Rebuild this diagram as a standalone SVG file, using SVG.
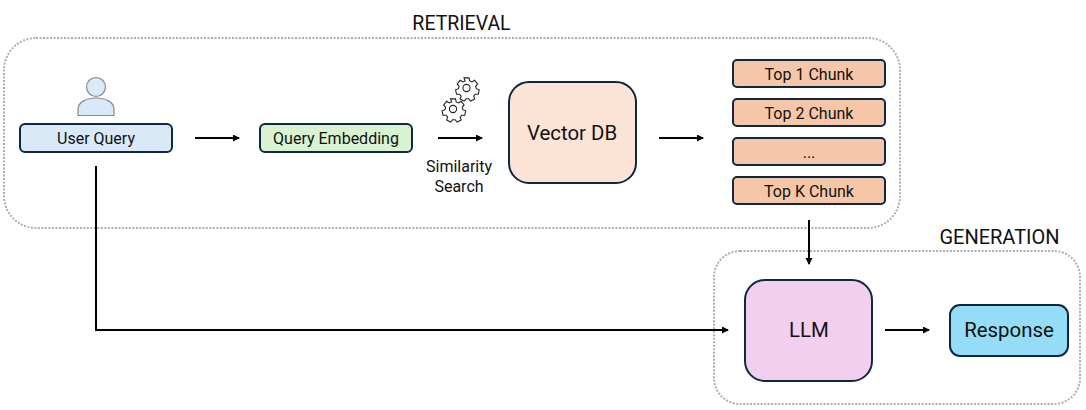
<svg xmlns="http://www.w3.org/2000/svg" width="1086" height="410" viewBox="0 0 1086 410">
<style>
text{font-family:Roboto,"Liberation Sans",sans-serif;fill:#111;text-anchor:middle}
.s{font-size:16px}.m{font-size:20.400px}.h{font-size:19.500px}.g{font-size:20px}
.box{stroke:#0e2841;stroke-width:2}
.grp{fill:none;stroke:#aeaeae;stroke-width:2;stroke-dasharray:2 1.500}
.c{fill:none;stroke:#000;stroke-width:2;marker-end:url(#a)}
.gear{fill:none;stroke:#222;stroke-width:1.100}
</style>
<defs>
<marker id="a" markerUnits="userSpaceOnUse" markerWidth="8" markerHeight="8" refX="6" refY="3.500" orient="auto"><path d="M0 0L7 3.500L0 7z" fill="#000"/></marker>
<g id="gear"><circle r="3.600" class="gear"/><path class="gear" d="M-2.500-10.500h5l.7 3 2.200 1 2.700-1.600 3 3.600-1.900 2.400.6 2.400 2.900 1.100-.9 4.500-3.100-.1-1.500 1.900 1 2.900-4.100 2.100-2-2.400h-2.400l-2 2.400-4.100-2.100 1-2.900-1.500-1.900-3.100.1-.9-4.500 2.900-1.100.6-2.400-1.900-2.400 3-3.600 2.700 1.600 2.200-1z" transform="translate(0 .4)"/></g>
</defs>
<rect width="1086" height="410" fill="#fff"/>
<g id="retrieval">
<rect class="grp" x="4" y="38" width="896" height="190" rx="32"/>
<text class="h" x="461.500" y="30">RETRIEVAL</text>
</g>
<g id="generation">
<rect class="grp" x="714" y="251" width="366" height="153" rx="26"/>
<text class="g" x="999.500" y="244">GENERATION</text>
</g>
<g id="connectors">
<path class="c" d="M195 138H239"/>
<path class="c" d="M438 138H482"/>
<path class="c" d="M659 138H703"/>
<path class="c" d="M809 220V264"/>
<path class="c" d="M96 166V330H728"/>
<path class="c" d="M885 330H929"/>
</g>
<g id="user-icon">
<circle cx="96" cy="87" r="9.500" fill="#dae9f8" stroke="#8a8a8a" stroke-width="1.200"/>
<path d="M78 115.500V109C78 102 87 98 96 98S114 102 114 109V115.500Z" fill="#dae9f8" stroke="#8a8a8a" stroke-width="1.200"/>
</g>
<g id="user-query">
<rect class="box" x="20" y="124" width="152" height="28" rx="5" fill="#dae9f8"/>
<text class="s" x="96" y="143.500">User Query</text>
</g>
<g id="query-embedding">
<rect class="box" x="260" y="124" width="152" height="28" rx="5" fill="#d9f2d0"/>
<text class="s" x="336" y="143.500">Query Embedding</text>
</g>
<g id="similarity-search">
<use href="#gear" x="466.500" y="88"/>
<use href="#gear" x="453" y="109"/>
<text class="s" x="459" y="172">Similarity</text>
<text class="s" x="459" y="191.500">Search</text>
</g>
<g id="vector-db">
<rect class="box" x="509" y="82" width="127" height="101" rx="20" fill="#fbe3d6"/>
<text class="m" x="572" y="139.500">Vector DB</text>
</g>
<g id="top-1">
<rect class="box" x="733" y="60" width="152" height="27" rx="4" fill="#f6c6a8"/>
<text class="s" x="809" y="79.500">Top 1 Chunk</text>
</g>
<g id="top-2">
<rect class="box" x="733" y="99" width="152" height="27" rx="4" fill="#f6c6a8"/>
<text class="s" x="809" y="118.500">Top 2 Chunk</text>
</g>
<g id="top-dots">
<rect class="box" x="733" y="138" width="152" height="27" rx="4" fill="#f6c6a8"/>
<text class="s" x="809" y="157.500">...</text>
</g>
<g id="top-k">
<rect class="box" x="733" y="177" width="152" height="27" rx="4" fill="#f6c6a8"/>
<text class="s" x="809" y="196.500">Top K Chunk</text>
</g>
<g id="llm">
<rect class="box" x="745" y="280" width="127" height="101" rx="20" fill="#f2ceef"/>
<text class="m" x="809" y="337">LLM</text>
</g>
<g id="response">
<rect class="box" x="950" y="305" width="118" height="51" rx="10" fill="#95dcf7"/>
<text class="m" x="1009" y="337">Response</text>
</g>
</svg>
